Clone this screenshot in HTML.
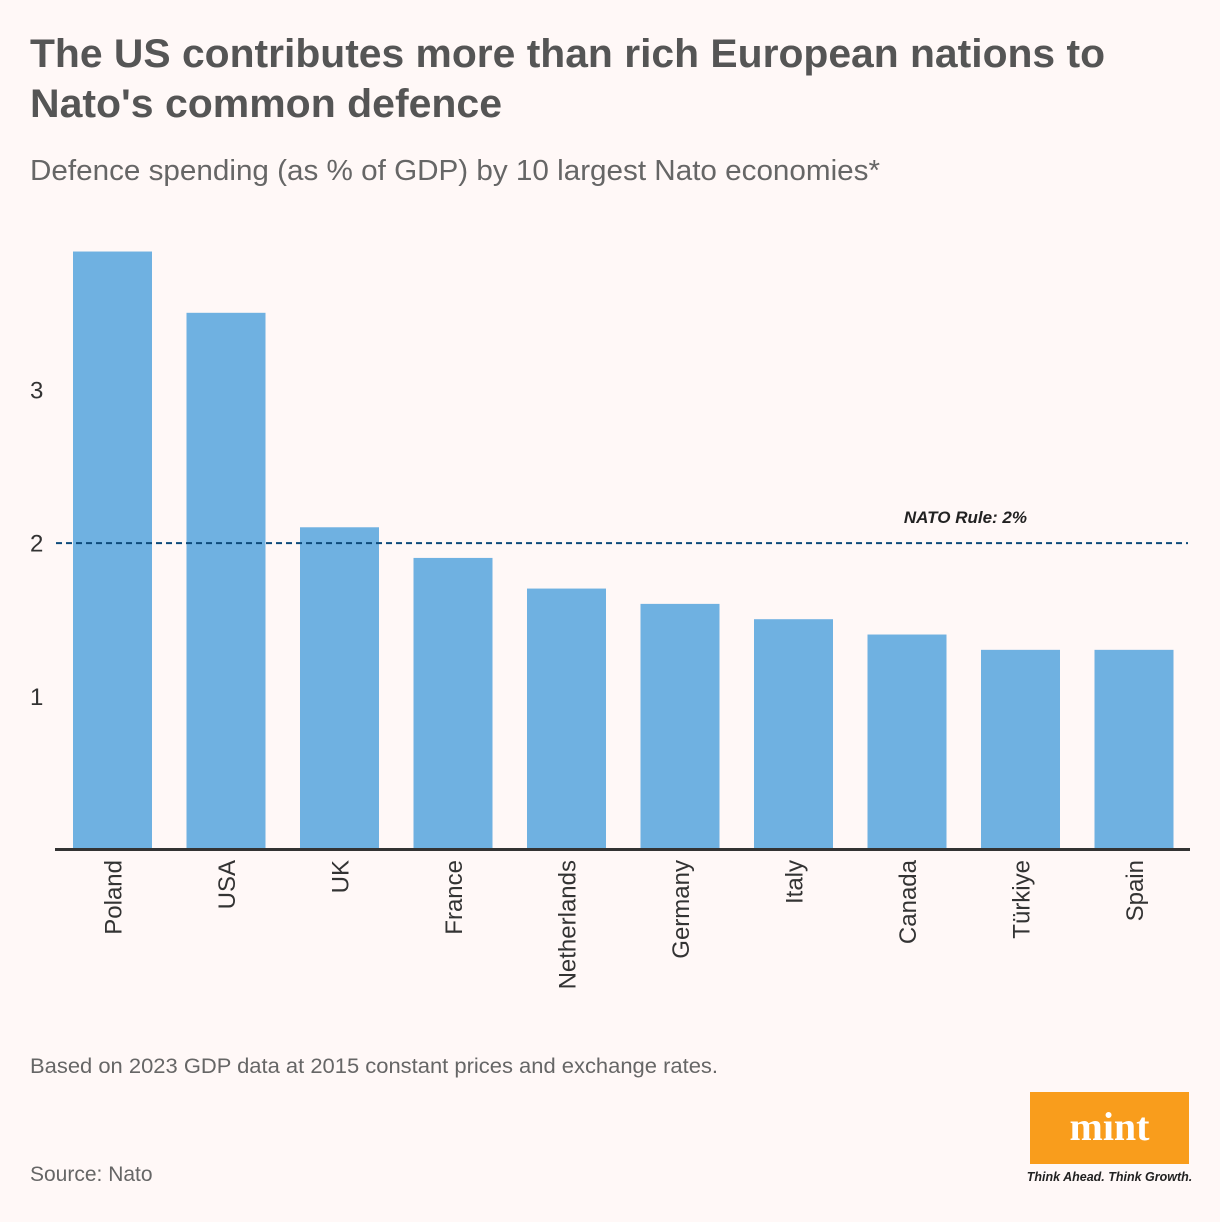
<!DOCTYPE html>
<html><head><meta charset="utf-8"><style>
body{margin:0;background:#fff8f7;}
svg{display:block;font-family:"Liberation Sans",sans-serif;}
</style></head><body>
<svg width="1220" height="1222" viewBox="0 0 1220 1222" id="chart">
<rect width="1220" height="1222" fill="#fff8f7"/>
<text x="30" y="67" font-size="40" font-weight="bold" fill="#555" textLength="1075" lengthAdjust="spacingAndGlyphs">The US contributes more than rich European nations to</text>
<text x="30" y="117" font-size="40" font-weight="bold" fill="#555" textLength="472" lengthAdjust="spacingAndGlyphs">Nato's common defence</text>
<text x="30" y="180" font-size="29" fill="#666" textLength="850" lengthAdjust="spacingAndGlyphs">Defence spending (as % of GDP) by 10 largest Nato economies*</text>
<g id="bars"></g>
<g id="yticks"></g>
<g id="xlabels"></g>
<line x1="55" x2="1190" y1="849.5" y2="849.5" stroke="#333" stroke-width="3"/>
<line id="rule" x1="56" x2="1188" stroke="#0d4a7a" stroke-width="2" stroke-dasharray="6,4"/>
<text id="ruleLabel" x="1027" font-size="17" font-weight="bold" font-style="italic" fill="#222" text-anchor="end">NATO Rule: 2%</text>
<text x="30" y="1073" font-size="21" fill="#666" textLength="688" lengthAdjust="spacingAndGlyphs">Based on 2023 GDP data at 2015 constant prices and exchange rates.</text>
<text x="30" y="1181" font-size="21" fill="#666">Source: Nato</text>
<g>
<rect x="1030" y="1092" width="159" height="72" fill="#f99d1c"/>
<text x="1109.5" y="1140" font-size="40" font-weight="bold" font-family="Liberation Serif,serif" fill="#fff" text-anchor="middle">mint</text>
<text x="1109.5" y="1181" font-size="12.5" font-weight="bold" font-style="italic" fill="#222" text-anchor="middle">Think Ahead. Think Growth.</text>
</g>
</svg>
<script>
const categories=["Poland","USA","UK","France","Netherlands","Germany","Italy","Canada","Türkiye","Spain"];
const values=[3.9,3.5,2.1,1.9,1.7,1.6,1.5,1.4,1.3,1.3];
const yTicks=[1,2,3];
const ruleValue=2;
const NS="http://www.w3.org/2000/svg";
const y0=849,unit=153.2,x0=73,step=113.5,bw=79;
const yScale=v=>y0-v*unit;
const xScale=i=>x0+i*step;
const bars=document.getElementById('bars'),yt=document.getElementById('yticks'),xl=document.getElementById('xlabels');
categories.forEach((c,i)=>{
 const r=document.createElementNS(NS,'rect');
 r.setAttribute('x',xScale(i));r.setAttribute('width',bw);
 r.setAttribute('y',yScale(values[i]));r.setAttribute('height',y0-yScale(values[i]));
 r.setAttribute('fill','#6fb1e1');
 
 
 bars.appendChild(r);
 const t=document.createElementNS(NS,'text');
 const cx=xScale(i)+bw/2+9;
 t.setAttribute('transform','translate('+cx+',860) rotate(-90)');
 t.setAttribute('text-anchor','end');t.setAttribute('font-size','24');t.setAttribute('fill','#333');
 t.textContent=c;
 
 
 xl.appendChild(t);
});
yTicks.forEach(v=>{
 const t=document.createElementNS(NS,'text');
 t.setAttribute('x',30);t.setAttribute('y',yScale(v)+9);t.setAttribute('font-size','24');t.setAttribute('fill','#333');
 t.textContent=v;
 
 
 yt.appendChild(t);
});
const ry=yScale(ruleValue)+0.5;
const rl=document.getElementById('rule');rl.setAttribute('y1',ry);rl.setAttribute('y2',ry);
document.getElementById('ruleLabel').setAttribute('y',ry-20);
</script>
</body></html>
